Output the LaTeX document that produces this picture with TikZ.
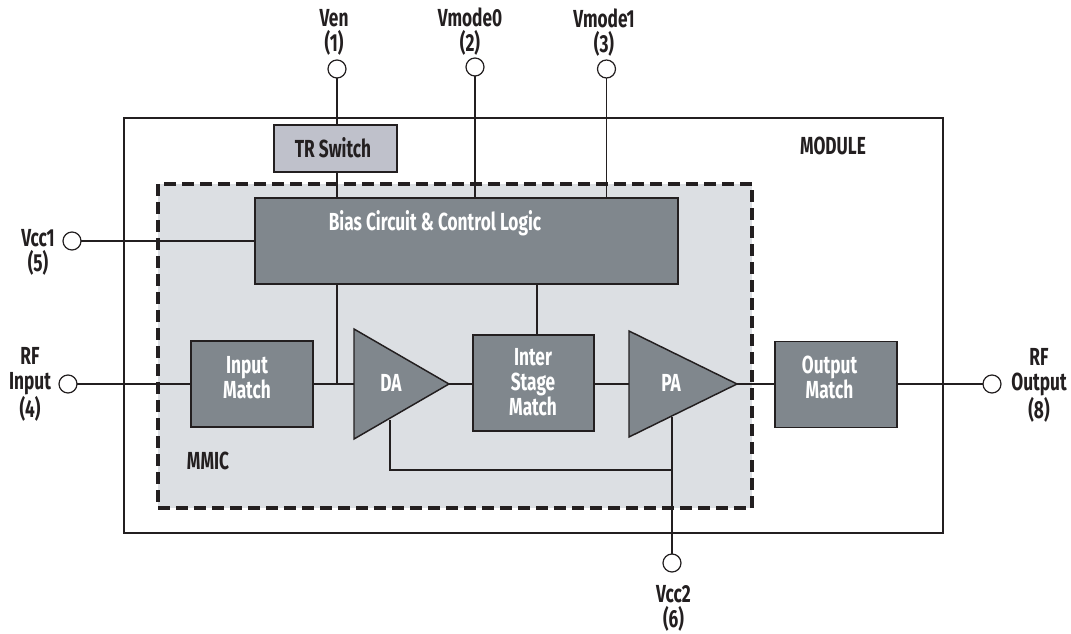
\documentclass[tikz,border=0pt]{standalone}
\usepackage{fontspec}
\usetikzlibrary{shapes.geometric}
\newfontfamily\labelfont[FakeStretch=0.7]{Fira Sans Bold}

\definecolor{blockgray}{HTML}{80878D}
\definecolor{mmicgray}{HTML}{DCDFE3}
\definecolor{switchgray}{HTML}{BFC1CB}
\definecolor{inkgray}{HTML}{231F20}

\tikzset{
	wire/.style={draw=inkgray, line width=1pt},
	blockbox/.style={rectangle, draw=inkgray, fill=blockgray, line width=1.1pt, inner sep=0pt, outer sep=0pt},
	ampbox/.style={isosceles triangle, isosceles triangle stretches, draw=inkgray, fill=blockgray, line width=1.1pt, inner sep=0pt, outer sep=0pt, anchor=apex},
	padcircle/.style={circle, draw=inkgray, fill=white, line width=0.9pt, minimum size=13.5pt, inner sep=0pt, outer sep=0pt},
	darklabel/.style={text=inkgray, align=center, inner sep=0pt, font=\labelfont\fontsize{18.5}{18.75}\selectfont},
	whitelabel/.style={darklabel, text=white},
}

\begin{document}
\begin{tikzpicture}[x=0.75pt, y=-0.75pt]

	\useasboundingbox (0,0) rectangle (1071,634);

	% frames
	\node[rectangle, draw=inkgray, line width=2.2pt, minimum width=614.25pt, minimum height=311.25pt, inner sep=0pt] (module) at (533.5,325.5) {};
	\node[rectangle, draw=inkgray, fill=mmicgray, line width=3pt, dash pattern=on 9pt off 4.5pt, minimum width=445.5pt, minimum height=243pt, inner sep=0pt] (mmic) at (455,346) {};

	% blocks
	\node[blockbox, fill=switchgray, minimum width=92.25pt, minimum height=35.25pt] (trsw) at (335.5,148.5) {};
	\node[blockbox, minimum width=317.25pt, minimum height=64.5pt] (bias) at (466.5,241) {};
	\node[blockbox, minimum width=91.5pt, minimum height=64.5pt] (inmatch) at (252,384) {};
	\node[blockbox, minimum width=90.75pt, minimum height=72pt] (stage) at (533.5,383) {};
	\node[blockbox, minimum width=91.5pt, minimum height=64.5pt] (outmatch) at (836,384.5) {};
	\node[ampbox, minimum width=82.5pt, minimum height=71.25pt] (da) at (449,384) {};
	\node[ampbox, minimum width=79.5pt, minimum height=81pt] (pa) at (737,384) {};

	% pads
	\node[padcircle] (ven) at (337,69) {};
	\node[padcircle] (vmodea) at (475,67) {};
	\node[padcircle] (vmodeb) at (606.5,69) {};
	\node[padcircle] (vcca) at (72,241) {};
	\node[padcircle] (rfin) at (68,384) {};
	\node[padcircle] (rfout) at (992,384) {};
	\node[padcircle] (vccb) at (672,563) {};

	% helper points on the wires
	\coordinate (sumpt) at (337,384);
	\coordinate (stagebias) at (537,335);
	\coordinate (dabias) at (390,420);
	\coordinate (dacorner) at (390,470);
	\coordinate (pabias) at (672,417);

	% top wires
	\draw[wire] (ven) -- (trsw.north -| ven);
	\draw[wire] (trsw.south -| ven) -- (bias.north -| ven);
	\draw[wire] (vmodea) -- (bias.north -| vmodea);
	\draw[wire] (vmodeb) -- (bias.north -| vmodeb);
	\draw[wire] (vcca) -- (bias.west);

	% signal path
	\draw[wire] (rfin) -- (inmatch.west);
	\draw[wire] (inmatch.east) -- (da.lower side);
	\draw[wire] (da.apex) -- (stage.west |- da.apex);
	\draw[wire] (stage.east |- pa.lower side) -- (pa.lower side);
	\draw[wire] (pa.apex) -- (outmatch.west |- pa.apex);
	\draw[wire] (outmatch.east |- rfout) -- (rfout);

	% bias wires
	\draw[wire] (bias.south -| sumpt) -- (sumpt);
	\draw[wire] (bias.south -| stagebias) -- (stagebias);
	\draw[wire] (vccb) -- (pabias);
	\draw[wire] (dabias) -- (dacorner) -- (dacorner -| vccb);

	% pad labels
	\node[darklabel] (venlabel) at (334,32.5) {Ven\\(1)};
	\node[darklabel] (modealabel) at (470,31.5) {Vmode0\\(2)};
	\node[darklabel] (modeblabel) at (604,32.5) {Vmode1\\(3)};
	\node[darklabel] (vccalabel) at (38,252.5) {Vcc1\\(5)};
	\node[darklabel] (rfinlabel) at (30,384) {RF\\Input\\(4)};
	\node[darklabel] (rfoutlabel) at (1039,385) {RF\\Output\\(8)};
	\node[darklabel] (vccblabel) at (673.5,608.5) {Vcc2\\(6)};

	% block labels
	\node[darklabel] (modulelabel) at (833,146) {MODULE};
	\node[darklabel] (mmiclabel) at (208,461) {MMIC};
	\node[darklabel] (trlabel) at (333,148) {TR Switch};
	\node[whitelabel] (biaslabel) at (435,223.5) {Bias Circuit \& Control Logic};
	\node[whitelabel] (inlabel) at (247,377.5) {Input\\Match};
	\node[whitelabel] (stagelabel) at (533,382.5) {Inter\\Stage\\Match};
	\node[whitelabel] (outlabel) at (829.5,377) {Output\\Match};
	\node[whitelabel] (dalabel) at (391,383) {DA};
	\node[whitelabel] (palabel) at (671,383) {PA};

\end{tikzpicture}
\end{document}
